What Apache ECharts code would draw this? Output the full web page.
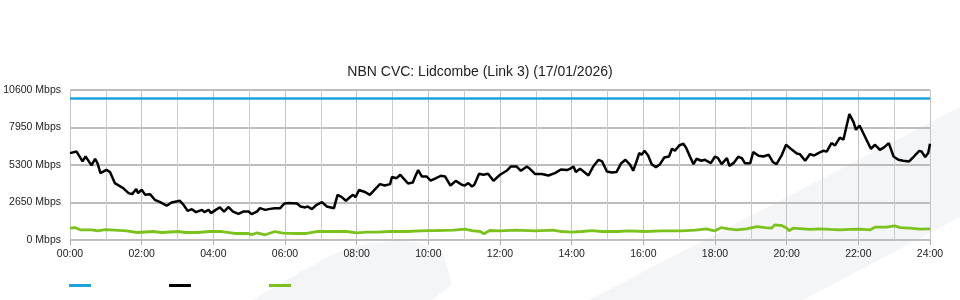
<!DOCTYPE html>
<html>
<head>
<meta charset="utf-8">
<script src="https://cdn.jsdelivr.net/npm/echarts@6/dist/echarts.min.js"></script>
<style>
html,body{margin:0;padding:0;background:#fff;}
#chart{width:960px;height:300px;}
</style>
</head>
<body>
<div id="chart"></div>
<script>
// ---- data (minutes since midnight, Mbps) ----
const titleText = 'NBN CVC: Lidcombe (Link 3) (17/01/2026)';
const yTicks = [0, 2650, 5300, 7950, 10600];
const xTickHours = [0, 2, 4, 6, 8, 10, 12, 14, 16, 18, 20, 22, 24];
const capacityMbps = 10000;

const dlMinutes = [0,11,21,26,36,42,46,51,61,67,75,89,98,104,111,114,120,126,134,142,151,162,170,184,190,197,204,211,221,225,232,236,244,251,258,265,273,282,290,299,304,313,318,327,335,343,352,359,366,380,386,394,398,405,413,422,430,442,448,455,462,470,474,478,484,494,502,511,519,527,536,539,547,553,558,566,574,578,583,589,597,604,613,621,628,637,646,656,661,667,673,677,685,692,700,709,720,731,738,748,755,765,770,779,790,801,812,822,832,837,843,847,854,861,868,876,885,891,899,907,915,923,930,938,943,949,953,957,962,968,974,981,988,995,1003,1008,1013,1020,1027,1032,1038,1044,1049,1057,1063,1073,1080,1085,1091,1100,1104,1111,1119,1125,1130,1139,1144,1153,1161,1170,1177,1183,1192,1199,1209,1217,1222,1231,1239,1246,1253,1261,1267,1275,1281,1289,1295,1305,1312,1316,1322,1331,1341,1348,1356,1363,1371,1379,1387,1395,1405,1413,1422,1426,1432,1437,1440];
const dlMbps = [6140,6250,5550,5900,5270,5740,5430,4730,4960,4800,4020,3670,3310,3240,3600,3310,3550,3190,3240,2840,2680,2420,2650,2770,2490,2060,2180,1970,2130,1970,2130,1900,2130,2300,2010,2330,2010,1850,2010,2010,1830,2010,2250,2130,2200,2250,2250,2580,2610,2580,2370,2300,2370,2180,2490,2680,2370,2250,3190,3030,2770,3070,3190,3030,3530,3390,3190,3600,3950,3850,3950,4450,4370,4610,4370,3990,4060,4490,4940,4490,4490,4200,4370,4540,4490,3850,4180,3900,3850,4020,3780,3900,4680,4610,4680,4180,4610,4890,5190,5190,4890,5190,5030,4660,4660,4560,4730,4980,4940,5030,5190,4800,5030,4800,4560,5190,5670,5550,4840,4770,4800,5430,5670,5310,4890,5600,6140,6020,6300,5970,5360,5150,5360,5830,5900,6450,6300,6680,6800,6490,5900,5360,5740,5600,5670,5430,5900,5790,5360,5790,5240,5430,5880,5790,5430,5430,6210,5950,5900,6020,5500,5360,6020,6730,6370,6110,6070,5600,6070,5970,6140,6300,6250,6850,6680,7240,7080,8900,8330,7790,8090,7310,6450,6730,6370,6540,6850,5900,5670,5600,5550,5900,6300,6250,5860,6140,6800];

const ulMinutes = [0,8,17,36,47,59,75,95,112,139,154,181,193,214,234,254,276,299,304,313,327,343,357,380,396,413,435,463,480,497,514,536,564,586,614,642,661,673,687,693,703,720,745,779,809,823,840,857,874,890,918,935,963,991,1024,1047,1066,1072,1080,1091,1102,1116,1133,1150,1164,1175,1180,1192,1200,1204,1211,1228,1239,1256,1273,1289,1306,1323,1340,1348,1367,1381,1390,1407,1423,1440];
const ulMbps = [840,880,720,720,650,740,700,650,530,600,530,600,530,530,600,600,460,460,370,510,370,600,490,460,460,600,600,600,510,560,560,600,600,650,670,700,770,670,600,440,670,650,700,650,700,600,560,600,670,600,600,650,600,650,650,700,790,720,650,880,790,720,790,950,880,840,1070,1020,840,650,840,790,750,790,750,720,750,770,720,910,910,1000,880,840,770,790];

const capMinutes = [0, 1440];
const capMbps = [capacityMbps, capacityMbps];

function pairs(xs, ys) { return xs.map((x, i) => [x, ys[i]]); }
function hhmm(min) { const h = Math.round(min / 60); return (h < 10 ? '0' : '') + h + ':00'; }

const FONT = '"Liberation Sans", Arial, sans-serif';
const chart = echarts.init(document.getElementById('chart'), null, {renderer: 'canvas'});
chart.setOption({
  animation: false,
  backgroundColor: '#ffffff',
  textStyle: {fontFamily: FONT},
  graphic: [
    {type: 'polygon', z: -10, silent: true,
     shape: {points: [[589,300],[960,107],[960,217],[803,300]]},
     style: {fill: '#f4f5f7'}},
    {type: 'polygon', z: -10, silent: true,
     shape: {points: [[253,300],[300,272],[340,251],[365,244],[395,241],[417,242],[443,253],[452,285],[432,300]]},
     style: {fill: '#f4f5f7'}}
  ],
  title: {
    text: titleText, left: 'center', top: 60,
    textStyle: {fontSize: 14, fontWeight: 'normal', color: '#222', fontFamily: FONT}
  },
  legend: {
    left: 64, top: 279, icon: 'rect', itemWidth: 22, itemHeight: 3, itemGap: 78,
    formatter: () => '', selectedMode: false,
    data: ['Capacity', 'Download', 'Upload']
  },
  grid: {left: 70, right: 30, top: 90, bottom: 60, containLabel: false, outerBoundsMode: 'none'},
  xAxis: {
    type: 'value', min: 0, max: 1440, interval: 120,
    axisLine: {show: true, lineStyle: {color: '#c0c0c0', width: 1}},
    axisTick: {show: true, length: 5, lineStyle: {color: '#b0b0b0'}},
    axisLabel: {formatter: v => hhmm(v), color: '#222', fontSize: 10.5, margin: 9, fontFamily: FONT},
    splitLine: {show: true, lineStyle: {color: '#c4c4c4', width: 1}},
    minorTick: {show: false, splitNumber: 2},
    minorSplitLine: {show: true, lineStyle: {color: '#cccccc', width: 1}}
  },
  yAxis: {
    type: 'value', min: yTicks[0], max: yTicks[yTicks.length - 1], interval: yTicks[1] - yTicks[0],
    axisLine: {show: false}, axisTick: {show: false},
    axisLabel: {formatter: v => v + ' Mbps', color: '#222', fontSize: 10.5, margin: 9, fontFamily: FONT},
    splitLine: {show: true, lineStyle: {color: '#bdbdbd', width: 2}}
  },
  series: [
    {name: 'Capacity', type: 'line', data: pairs(capMinutes, capMbps), showSymbol: false,
     color: '#1ea2dc', lineStyle: {width: 2.5, color: '#1ea2dc'}, z: 3},
    {name: 'Download', type: 'line', data: pairs(dlMinutes, dlMbps), showSymbol: false,
     color: '#000000', lineStyle: {width: 2.5, color: '#000000'}, z: 4},
    {name: 'Upload', type: 'line', data: pairs(ulMinutes, ulMbps), showSymbol: false,
     color: '#7cc21f', lineStyle: {width: 2.8, color: '#7cc21f'}, z: 4}
  ]
});
</script>
</body>
</html>
